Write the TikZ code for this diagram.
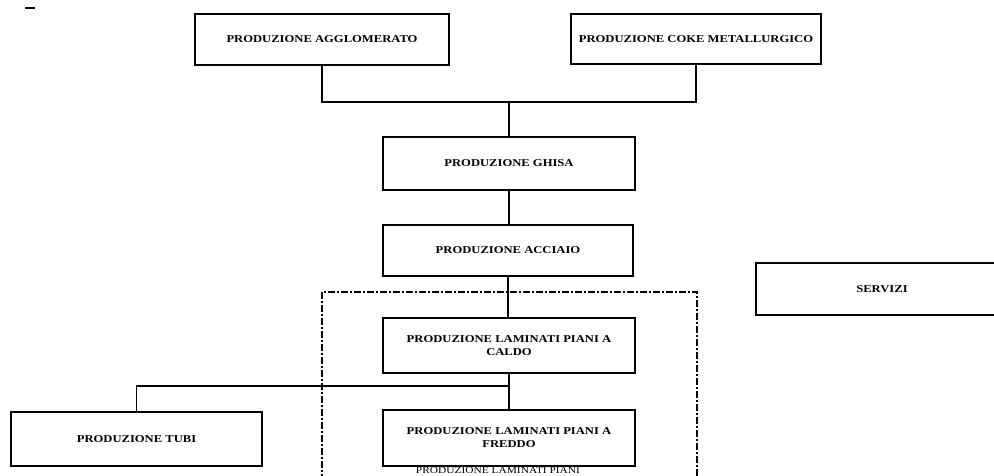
\documentclass[tikz,border=0pt]{standalone}
\usepackage{fontspec}
\setmainfont{Liberation Serif}
\newfontfamily\widefont[FakeStretch=1.2]{Liberation Serif}
\begin{document}
\begin{tikzpicture}[x=1pt,y=-1pt,
  blk/.style={draw=black,line width=2.2pt,fill=white,inner sep=2pt,align=center,
    font=\widefont\fontsize{10.5}{13}\selectfont\bfseries},
  conn/.style={draw=black,line width=1.8pt},
  grp/.style={draw=black,line width=2pt,dash pattern=on 7pt off 2pt on 2pt off 2pt}]
\useasboundingbox (0,0) rectangle (994,476);
\clip (0,0) rectangle (994,476);
\draw[line width=1.5pt] (25,8) coordinate (m1) -- (35,8) coordinate (m2);
% group
\draw[grp] (322,520) coordinate (g1) -- (322,292) -- (697,292) -- (697,520) coordinate (g2);
\node[font=\widefont\fontsize{9.5}{10}\selectfont,inner sep=1pt] (cap) at (498,470) {PRODUZIONE LAMINATI PIANI};
% boxes
\node[blk,minimum width=254pt,minimum height=51pt] (agg) at (322,39.5) {PRODUZIONE AGGLOMERATO};
\node[blk,minimum width=250pt,minimum height=50pt] (coke) at (696,39) {PRODUZIONE COKE METALLURGICO};
\node[blk,minimum width=252pt,minimum height=53pt] (ghisa) at (509,163.5) {PRODUZIONE GHISA};
\node[blk,minimum width=250pt,minimum height=51pt] (acc) at (508,250.5) {PRODUZIONE ACCIAIO};
\node[blk,minimum width=252pt,minimum height=55pt] (caldo) at (509,345.5) {PRODUZIONE LAMINATI PIANI A\\CALDO};
\node[blk,minimum width=252pt,minimum height=56pt] (freddo) at (509,438) {PRODUZIONE LAMINATI PIANI A\\FREDDO};
\node[blk,minimum width=251pt,minimum height=54pt] (tubi) at (136.5,439) {PRODUZIONE TUBI};
\node[blk,minimum width=252pt,minimum height=52pt] (serv) at (882,289) {SERVIZI};
% connectors
\coordinate (j1) at (509,102);
\draw[conn] (agg.south) |- (j1) -| (coke.south);
\draw[conn] (j1) -- (ghisa.north);
\draw[conn] (ghisa.south) -- (ghisa.south |- acc.north);
\draw[conn] (acc.south) -- (acc.south |- caldo.north);
\draw[conn] (caldo.south) -- (freddo.north);
\coordinate (j2) at (509,386);
\draw[conn] (j2) -| (tubi.north);
\end{tikzpicture}
\end{document}
